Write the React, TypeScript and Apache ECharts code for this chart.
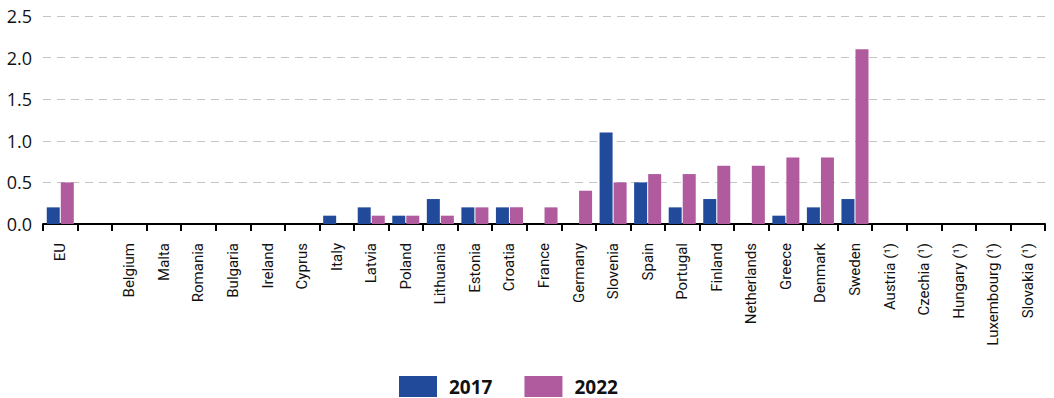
import React, { useEffect, useRef } from "react";
import * as echarts from "echarts";

const categories = [
  "EU", "", "Belgium", "Malta", "Romania", "Bulgaria", "Ireland", "Cyprus", "Italy", "Latvia",
  "Poland", "Lithuania", "Estonia", "Croatia", "France", "Germany", "Slovenia", "Spain", "Portugal",
  "Finland", "Netherlands", "Greece", "Denmark", "Sweden", "Austria (¹)", "Czechia (¹)",
  "Hungary (¹)", "Luxembourg (¹)", "Slovakia (¹)",
];
const values2017 = [
  0.2, null, 0, 0, 0, 0, 0, 0, 0.1, 0.2,
  0.1, 0.3, 0.2, 0.2, 0, 0, 1.1, 0.5, 0.2,
  0.3, 0, 0.1, 0.2, 0.3, null, null,
  null, null, null,
];
const values2022 = [
  0.5, null, 0, 0, 0, 0, 0, 0, 0, 0.1,
  0.1, 0.1, 0.2, 0.2, 0.2, 0.4, 0.5, 0.6, 0.6,
  0.7, 0.7, 0.8, 0.8, 2.1, null, null,
  null, null, null,
];
const seriesNames = ["2017", "2022"];
const colors = ["#214a9b", "#af5b9e"];

export default function App() {
  const ref = useRef<HTMLDivElement>(null);
  useEffect(() => {
    const chart = echarts.init(ref.current!, null, { renderer: "svg" });
    chart.setOption({
      animation: false,
      color: colors,
      grid: { left: 43, right: 9, top: 16, bottom: 174, containLabel: false },
      legend: {
        top: 376,
        left: 399,
        itemWidth: 38,
        itemHeight: 21,
        itemGap: 32,
        padding: 0,
        icon: "rect",
        textStyle: {
          fontSize: 19,
          lineHeight: 21,
          fontWeight: "bold",
          color: "#111",
          fontFamily: "Open Sans",
          padding: [0, 0, 0, 7],
        },
        data: seriesNames,
      },
      xAxis: {
        type: "category",
        data: categories,
        axisLine: { lineStyle: { color: "#000", width: 2 } },
        axisTick: { show: true, length: 7, lineStyle: { color: "#000", width: 2 } },
        axisLabel: {
          rotate: 90,
          interval: 0,
          margin: 19,
          fontSize: 15,
          color: "#111",
          fontFamily: "Roboto",
        },
      },
      yAxis: {
        type: "value",
        min: 0,
        max: 2.5,
        interval: 0.5,
        axisLine: { show: false },
        axisTick: { show: false },
        axisLabel: {
          margin: 11,
          fontSize: 18,
          color: "#111",
          fontFamily: "Open Sans",
          formatter: (v: number) => v.toFixed(1),
        },
        splitLine: { lineStyle: { color: "#c4c4c4", type: [8, 6], width: 1 } },
      },
      series: [
        { name: seriesNames[0], type: "bar", data: values2017, barWidth: 13, barGap: "8%" },
        { name: seriesNames[1], type: "bar", data: values2022, barWidth: 13, barGap: "8%" },
      ],
    });
    return () => chart.dispose();
  }, []);
  return (
    <div
      ref={ref}
      style={{ position: "absolute", left: 0, top: 0, width: 1054, height: 398 }}
    />
  );
}
